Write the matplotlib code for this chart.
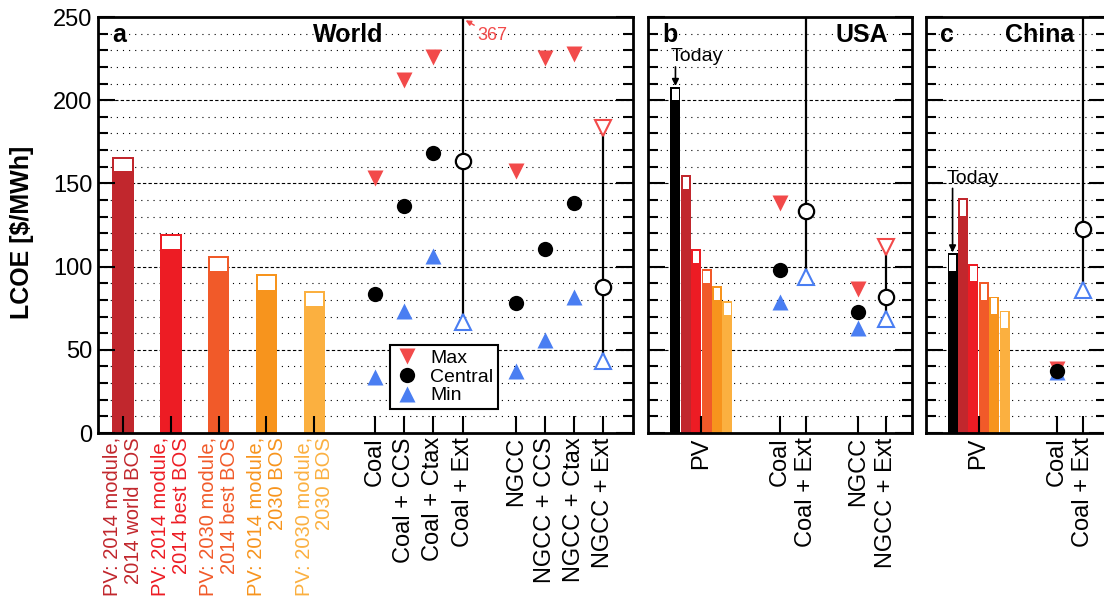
import matplotlib.pyplot as plt
from matplotlib.lines import Line2D
from matplotlib.ticker import MultipleLocator

plt.rcParams['font.family'] = ['Liberation Sans', 'DejaVu Sans']

# PV scenarios (same colours in every panel)
pv_labels = ["PV: 2014 module,\n2014 world BOS", "PV: 2014 module,\n2014 best BOS",
             "PV: 2030 module,\n2014 best BOS", "PV: 2014 module,\n2030 BOS",
             "PV: 2030 module,\n2030 BOS"]
pv_colors = ['#c1272d', '#ed1c24', '#f15a29', '#f7941d', '#fbb040']
max_color = '#f24a4a'
min_color = '#4a7ef2'

# World
world_pv_low = [157, 110, 96.5, 85.5, 75.5]
world_pv_high = [166, 119.5, 106.5, 95.5, 85.5]
world_fossil = ["Coal", "Coal + CCS", "Coal + Ctax", "Coal + Ext",
                "NGCC", "NGCC + CCS", "NGCC + Ctax", "NGCC + Ext"]
world_max = [153.5, 212, 226, 367, 157.5, 225.5, 228, 183.5]
world_central = [83.5, 136.5, 168, 163.5, 78, 110.5, 138.5, 87.5]
world_min = [33.5, 73.5, 106.5, 67, 37.5, 56, 82, 43.5]

# USA (first bar = today)
usa_pv_low = [199.5, 146, 101.5, 89.5, 79.5, 70.5]
usa_pv_high = [208, 155, 110.5, 98.5, 88.5, 79.5]
usa_fossil = ["Coal", "Coal + Ext", "NGCC", "NGCC + Ext"]
usa_max = [138, 300, 86.5, 112]
usa_central = [98, 133.5, 72.5, 81.5]
usa_min = [79, 94, 63, 68.5]

# China (first bar = today)
china_pv_low = [96.5, 130, 90.5, 79.5, 71, 62.5]
china_pv_high = [108, 141, 101.5, 90.5, 82, 73.5]
china_fossil = ["Coal", "Coal + Ext"]
china_max = [38.5, 300]
china_central = [37.5, 122.5]
china_min = [36.5, 86]

W, H = 1104, 596
fig = plt.figure(figsize=(W / 100, H / 100), dpi=100)
UNIT = 29.2  # px per x unit
YPX = 416 / 250  # px per LCOE unit
bottom_px, top_px = 433, 17


def make_axes(left_px, right_px):
    ax = fig.add_axes([left_px / W, 1 - bottom_px / H, (right_px - left_px) / W,
                       (bottom_px - top_px) / H])
    ax.set_xlim(0, (right_px - left_px) / UNIT)
    ax.set_ylim(0, 250)
    ax.yaxis.set_major_locator(MultipleLocator(50))
    ax.yaxis.set_minor_locator(MultipleLocator(10))
    ax.tick_params(axis='y', which='both', direction='in', left=True, right=True, width=1.5)
    ax.tick_params(axis='y', which='major', length=12, labelsize=17, pad=4)
    ax.tick_params(axis='y', which='minor', length=7)
    ax.tick_params(axis='x', direction='in', length=12, width=1.5, pad=3)
    for s in ax.spines.values():
        s.set_linewidth(2)
    for v in range(10, 250, 10):
        ls = (0, (3, 2)) if v % 50 == 0 else (0, (1, 4.5))
        ax.axhline(v, color='k', lw=0.8, ls=ls, zorder=0.5)
    return ax


def draw_pv(ax, xs, low, high, colors, width, inset=2.0):
    # filled bar up to the high value, white window between low and high
    dx = inset / UNIT
    dy = inset / YPX
    for x, lo, hi, c in zip(xs, low, high, colors):
        ax.bar(x, hi, width=width, color=c, lw=0, zorder=1)
        ax.bar(x, hi - lo - dy - 0.6, bottom=lo + 0.6, width=width - 2 * dx,
               color='white', lw=0, zorder=1.1)


def draw_fossil(ax, xs, names, vmax, vmin, vcen):
    for x, n, hi, lo, c in zip(xs, names, vmax, vmin, vcen):
        if "Ext" in n:
            ax.plot([x, x], [lo, hi], color='k', lw=1.6, zorder=2)
            ax.plot(x, hi, 'v', ms=12, mfc='white', mec=max_color, mew=1.5, zorder=3)
            ax.plot(x, lo, '^', ms=12, mfc='white', mec=min_color, mew=1.5, zorder=3)
            ax.plot(x, c, 'o', ms=11, mfc='white', mec='k', mew=1.6, zorder=4)
        else:
            ax.plot(x, hi, 'v', ms=12, color=max_color, mec='none', zorder=3)
            ax.plot(x, lo, '^', ms=12, color=min_color, mec='none', zorder=3)
            ax.plot(x, c, 'o', ms=11, color='k', mec='none', zorder=4)


# ---- panel a: World ----
ax_a = make_axes(98, 633)
pv_x = [0.85 + 1.64 * i for i in range(len(world_pv_low))]
fossil_x = [9.49, 10.48, 11.47, 12.49, 14.31, 15.31, 16.3, 17.29]
draw_pv(ax_a, pv_x, world_pv_low, world_pv_high, pv_colors, 0.74)
draw_fossil(ax_a, fossil_x, world_fossil, world_max, world_min, world_central)
ax_a.set_xticks(pv_x + fossil_x, pv_labels + world_fossil, rotation=90)
for i, t in enumerate(ax_a.get_xticklabels()):
    if i < len(pv_labels):
        t.set_color(pv_colors[i])
        t.set_fontsize(14.5)
        t.set_linespacing(1.15)
        t.set_multialignment('right')
    else:
        t.set_fontsize(17)
ax_a.annotate(f"{world_max[3]:.0f}", xy=(fossil_x[3] + 0.1, 248), xytext=(12.98, 239),
              ha='left', va='center', fontsize=13, color=max_color,
              arrowprops=dict(arrowstyle='-|>', color=max_color, lw=1, shrinkA=0,
                              shrinkB=0, relpos=(0, 1), mutation_scale=8))
ax_a.text(0.026, 0.957, "a", transform=ax_a.transAxes, fontsize=18, fontweight='bold',
          ha='left', va='center')
ax_a.text(0.533, 0.957, "World", transform=ax_a.transAxes, fontsize=18, fontweight='bold',
          ha='right', va='center')
handles = [Line2D([], [], ls='none', marker='v', ms=12, color=max_color, mec='none'),
           Line2D([], [], ls='none', marker='o', ms=11, color='k', mec='none'),
           Line2D([], [], ls='none', marker='^', ms=12, color=min_color, mec='none')]
leg = ax_a.legend(handles, ["Max", "Central", "Min"], loc='lower left',
                  bbox_to_anchor=(0.546, 0.057), borderaxespad=0, fontsize=14,
                  fancybox=False, edgecolor='k', framealpha=1, labelspacing=0.05,
                  handletextpad=0.6, handlelength=1.2, borderpad=0.25)
leg.get_frame().set_linewidth(1.5)

fig.text(22 / W, 1 - 232 / H, "LCOE [$/MWh]", rotation=90, ha='center', va='center',
         fontsize=18, fontweight='bold')

# ---- panels b and c: USA and China ----
bar_colors = ['black'] + pv_colors
for name, letter, (lpx, rpx), x0, fx, low, high, fnames, fmax, fmin, fcen, today_xy in [
        ("USA", "b", (648, 912), 0.94, [4.52, 5.41, 7.19, 8.15], usa_pv_low, usa_pv_high,
         usa_fossil, usa_max, usa_min, usa_central, (0.79, 226, 220)),
        ("China", "c", (926, 1106), 0.91, [4.49, 5.38], china_pv_low, china_pv_high,
         china_fossil, china_max, china_min, china_central, (0.72, 153, 147))]:
    ax = make_axes(lpx, rpx)
    bx = [x0 + 0.356 * i for i in range(len(low))]
    draw_pv(ax, bx, low, high, bar_colors, 0.34, inset=1.8)
    draw_fossil(ax, fx, fnames, fmax, fmin, fcen)
    ax.set_xticks([sum(bx) / len(bx)] + fx, ["PV"] + fnames, rotation=90, fontsize=17)
    ax.set_yticklabels([])
    tx, ty, ay = today_xy
    ax.text(tx, ty, "Today", fontsize=14, ha='left', va='center')
    ax.annotate("", xy=(bx[0], high[0] + 0.5), xytext=(bx[0], ay),
                arrowprops=dict(arrowstyle='-|>', color='k', lw=1.2, shrinkA=0, shrinkB=0,
                                mutation_scale=10))
    ax.text(14 / (rpx - lpx), 0.957, letter, transform=ax.transAxes, fontsize=18,
            fontweight='bold', ha='left', va='center')
    cx = 862 if name == "USA" else 1040
    ax.text((cx - lpx) / (rpx - lpx), 0.957, name, transform=ax.transAxes, fontsize=18,
            fontweight='bold', ha='center', va='center')

fig.savefig("out.png", dpi=100)
